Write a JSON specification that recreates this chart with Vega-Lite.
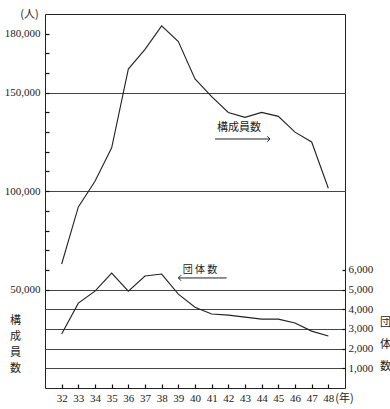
{
  "$schema": "https://vega.github.io/schema/vega-lite/v6.json",
  "width": 300,
  "height": 374,
  "autosize": "none",
  "padding": {"left": 45, "top": 14, "right": 45, "bottom": 21},
  "background": "white",
  "config": {
    "view": {"stroke": "#222", "strokeWidth": 1},
    "axis": {
      "labelFont": "Liberation Serif",
      "labelFontSize": 11,
      "labelColor": "#222",
      "titleFont": "Noto Sans CJK JP",
      "titleFontSize": 11,
      "titleFontWeight": "normal",
      "titleColor": "#222",
      "tickColor": "#111",
      "tickWidth": 1.2,
      "gridColor": "#444",
      "gridWidth": 1.2,
      "labelOverlap": false,
      "labelFlush": false
    }
  },
  "datasets": {
    "series": [
      {"year": 32, "members": 63000, "groups": 2740},
      {"year": 33, "members": 92000, "groups": 4310},
      {"year": 34, "members": 105000, "groups": 4920},
      {"year": 35, "members": 122000, "groups": 5840},
      {"year": 36, "members": 162000, "groups": 4920},
      {"year": 37, "members": 172000, "groups": 5690},
      {"year": 38, "members": 184000, "groups": 5790},
      {"year": 39, "members": 176000, "groups": 4770},
      {"year": 40, "members": 157000, "groups": 4100},
      {"year": 41, "members": 148000, "groups": 3760},
      {"year": 42, "members": 140000, "groups": 3700},
      {"year": 43, "members": 137500, "groups": 3600},
      {"year": 44, "members": 140000, "groups": 3500},
      {"year": 45, "members": 138000, "groups": 3500},
      {"year": 46, "members": 130000, "groups": 3300},
      {"year": 47, "members": 125000, "groups": 2890},
      {"year": 48, "members": 101500, "groups": 2640}
    ]
  },
  "layer": [
    {
      "layer": [
        {
          "data": {"name": "series"},
          "mark": {"type": "line", "color": "#222", "strokeWidth": 1.1},
          "encoding": {
            "x": {
              "field": "year", "type": "quantitative",
              "scale": {"domain": [31, 49], "nice": false, "zero": false},
              "axis": {
                "values": [32,33,34,35,36,37,38,39,40,41,42,43,44,45,46,47,48],
                "tickCount": 40,
                "format": "d",
                "labelOverlap": false, "labelFlush": false,
                "tickSize": -4, "labelPadding": 8, "domain": false, "grid": false,
                "title": "(年)", "titleX": 299, "titleY": 10,
                "titleAlign": "center", "titleBaseline": "middle"
              }
            },
            "y": {
              "field": "members", "type": "quantitative",
              "scale": {"domain": [0, 190000], "nice": false},
              "axis": {
                "orient": "left",
                "values": [50000,60000,70000,80000,90000,100000,110000,120000,130000,140000,150000,160000,170000,180000],
                "tickCount": 40,
                "format": ",d",
                "labelOverlap": false,
                "labelExpr": "(datum.value === 50000 || datum.value === 100000 || datum.value === 150000 || datum.value === 180000) ? datum.label : ''",
                "tickSize": -4, "labelPadding": 9, "domain": false,
                "grid": false,
                "title": "(人)", "titleAngle": 0, "titleX": -16, "titleY": 0,
                "titleAlign": "center", "titleBaseline": "middle"
              }
            }
          }
        },
        {
          "data": {"values": [{}]},
          "mark": {"type": "rule", "color": "#222", "strokeWidth": 1},
          "encoding": {
            "x": {"datum": 41.2, "type": "quantitative"},
            "x2": {"datum": 44.5},
            "y": {"datum": 126500, "type": "quantitative"}
          }
        },
        {
          "data": {"values": [{}]},
          "mark": {"type": "point", "shape": "M-1,-1L0,0L-1,1", "filled": false, "stroke": "#222", "strokeWidth": 1, "size": 30, "opacity": 1},
          "encoding": {
            "x": {"datum": 44.5, "type": "quantitative"},
            "y": {"datum": 126500, "type": "quantitative"}
          }
        }
      ]
    },
    {
      "layer": [
        {
          "data": {"name": "series"},
          "mark": {"type": "line", "color": "#222", "strokeWidth": 1.1},
          "encoding": {
            "x": {"field": "year", "type": "quantitative"},
            "y": {
              "field": "groups", "type": "quantitative",
              "scale": {"domain": [0, 19000], "nice": false},
              "axis": {
                "orient": "right",
                "values": [1000, 2000, 3000, 4000, 5000, 6000],
                "tickCount": 40,
                "format": ",d",
                "labelOverlap": false,
                "tickSize": -3, "labelPadding": 6, "domain": false,
                "grid": true,
                "gridOpacity": {"condition": {"test": "datum.value <= 5000", "value": 1}, "value": 0},
                "title": ["団", "体", "数"], "titleAngle": 0, "titleX": 40, "titleY": 302,
                "titleAlign": "center", "titleBaseline": "top", "titleLineHeight": 22
              }
            }
          }
        },
        {
          "data": {"values": [{}]},
          "mark": {"type": "text", "text": "団 体 数", "font": "Noto Sans CJK JP", "fontSize": 10, "color": "#222", "align": "center", "baseline": "middle"},
          "encoding": {
            "x": {"datum": 40.3, "type": "quantitative"},
            "y": {"datum": 6000, "type": "quantitative"}
          }
        },
        {
          "data": {"values": [{}]},
          "mark": {"type": "rule", "color": "#222", "strokeWidth": 1},
          "encoding": {
            "x": {"datum": 39.0, "type": "quantitative"},
            "x2": {"datum": 41.9},
            "y": {"datum": 5590, "type": "quantitative"}
          }
        },
        {
          "data": {"values": [{}]},
          "mark": {"type": "point", "shape": "M1,-1L0,0L1,1", "filled": false, "stroke": "#222", "strokeWidth": 1, "size": 30, "opacity": 1},
          "encoding": {
            "x": {"datum": 39.0, "type": "quantitative"},
            "y": {"datum": 5590, "type": "quantitative"}
          }
        }
      ]
    },
    {
      "data": {"values": [{}]},
      "mark": {"type": "text", "text": "構成員数", "font": "Noto Sans CJK JP", "fontSize": 11, "color": "#222", "align": "center", "baseline": "middle"},
      "encoding": {
        "x": {"datum": 42.64, "type": "quantitative"},
        "y": {
          "datum": 132000, "type": "quantitative",
          "scale": {"domain": [0, 190000], "nice": false},
          "axis": {
            "orient": "left", "labels": false, "ticks": false, "domain": false,
            "values": [50000, 100000, 150000],
            "tickCount": 40,
            "grid": true, "gridOpacity": 1,
            "title": ["構", "成", "員", "数"], "titleAngle": 0, "titleX": -30, "titleY": 300,
            "titleAlign": "center", "titleBaseline": "top", "titleLineHeight": 16
          }
        }
      }
    }
  ],
  "resolve": {"scale": {"y": "independent"}}
}
